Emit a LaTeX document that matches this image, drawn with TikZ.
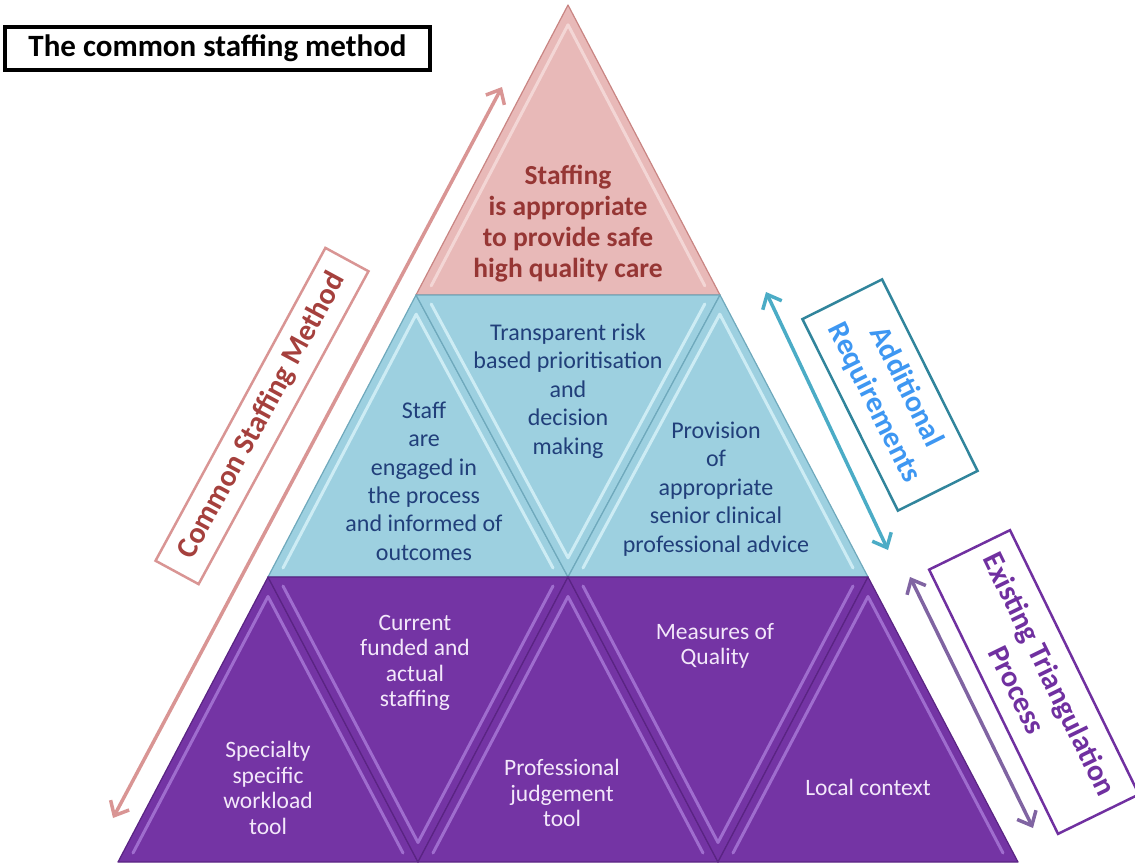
\documentclass[tikz,border=0pt]{standalone}
\usepackage{fontspec}
\setmainfont{Carlito}
\usetikzlibrary{arrows.meta}
\definecolor{pkfill}{HTML}{E8B9B8}
\definecolor{pkedge}{HTML}{C98583}
\definecolor{pkhi}{HTML}{F6DCDB}
\definecolor{pktext}{HTML}{963634}
\definecolor{blfill}{HTML}{9DD0E0}
\definecolor{bledge}{HTML}{6FA9BC}
\definecolor{blhi}{HTML}{D6F1F8}
\definecolor{bltext}{HTML}{213F7A}
\definecolor{pufill}{HTML}{7434A4}
\definecolor{puedge}{HTML}{5A2483}
\definecolor{puhi}{HTML}{A777D6}
\definecolor{putext}{HTML}{F3E8FA}
\definecolor{arrpink}{HTML}{D99594}
\definecolor{boxpinktext}{HTML}{A5403D}
\definecolor{arrblue}{HTML}{4BACC6}
\definecolor{boxblue}{HTML}{31859C}
\definecolor{textblue}{HTML}{3E97F2}
\definecolor{arrpurple}{HTML}{8064A2}
\definecolor{boxpurple}{HTML}{7030A0}
\tikzset{
  dblarr/.style={line width=3.5pt, arrows={Straight Barb[length=12pt,width=21pt]-Straight Barb[length=12pt,width=21pt]}},
  pktxt/.style={text=pktext, align=center, font=\bfseries\fontsize{27.5}{31}\selectfont},
  bltxt/.style={text=bltext, align=center, font=\fontsize{24}{28.4}\selectfont},
  putxt/.style={text=putext, align=center, font=\fontsize{23.5}{25.5}\selectfont},
  sidebox/.style={draw, line width=2.5pt, align=center, inner sep=0pt, font=\bfseries\fontsize{30}{36}\selectfont},
}
% #2 -- #3 -- #4 are given so that the open path follows the two slanted sides
\newcommand\pyrtri[5]{%
  \filldraw[fill=#1fill, draw=#1edge, line width=1.2pt, line join=round] #2 -- #3 -- #4 -- cycle;
  \draw[#1hi, opacity=0.85, line width=3pt, line join=round, line cap=round, scale around={0.9:#5}] #2 -- #3 -- #4;
}
\begin{document}
\begin{tikzpicture}[x=1pt,y=-1pt]
\useasboundingbox (0,0) rectangle (1135,865);
% title
\node[draw=black, line width=3.5pt, minimum width=425pt, minimum height=43pt, inner sep=0pt,
      font=\bfseries\fontsize{31}{35}\selectfont] (title) at (217.5,48.5) {The common staffing method};
% pyramid: top tier
\pyrtri{pk}{(416,295)}{(568,5)}{(720,295)}{(568,203)}
% middle tier
\pyrtri{bl}{(268,577)}{(416,295)}{(568,577)}{(418,487)}
\pyrtri{bl}{(416,295)}{(568,577)}{(720,295)}{(568,385)}
\pyrtri{bl}{(568,577)}{(720,295)}{(868,577)}{(718,487)}
% bottom tier
\pyrtri{pu}{(118,862)}{(268,577)}{(418,862)}{(268,772)}
\pyrtri{pu}{(268,577)}{(418,862)}{(568,577)}{(418,667)}
\pyrtri{pu}{(418,862)}{(568,577)}{(718,862)}{(568,772)}
\pyrtri{pu}{(568,577)}{(718,862)}{(868,577)}{(718,667)}
\pyrtri{pu}{(718,862)}{(868,577)}{(1018,862)}{(868,772)}
% texts
\node[pktxt] (safe) at (568,224) {Staffing\\is appropriate\\to provide safe\\high quality care};
\node[bltxt] (engaged) at (424,481) {Staff\\are\\engaged in\\the process\\and informed of\\outcomes};
\node[bltxt] (risk) at (568,391) {Transparent risk\\based prioritisation\\and\\decision\\making};
\node[bltxt] (advice) at (716,489) {Provision\\of\\appropriate\\senior clinical\\professional advice};
\node[putxt] (funded) at (415,663) {Current\\funded and\\actual\\staffing};
\node[putxt] (specialty) at (268,788) {Specialty\\specific\\workload\\tool};
\node[putxt] (judgement) at (562,793) {Professional\\judgement\\tool};
\node[putxt] (quality) at (715,646) {Measures of\\Quality};
\node[putxt] (local) at (868,787) {Local context};
% arrows
\coordinate (csmlow) at (113,818);
\coordinate (csmhigh) at (502,87);
\draw[dblarr, arrpink] (csmlow) -- (csmhigh);
\coordinate (arhigh) at (766,292);
\coordinate (arlow) at (888,550);
\draw[dblarr, arrblue] (arhigh) -- (arlow);
\coordinate (ethigh) at (910,577);
\coordinate (etlow) at (1033,828);
\draw[dblarr, arrpurple] (ethigh) -- (etlow);
% side boxes
\node[sidebox, draw=arrpink, text=boxpinktext, rotate=61.5, minimum width=356pt, minimum height=49pt] (csm) at (262,416) {Common Staffing Method};
\node[sidebox, draw=boxblue, text=textblue, rotate=-63.5, minimum width=214pt, minimum height=89pt] (addreq) at (890,395) {Additional\\Requirements};
\node[sidebox, draw=boxpurple, text=boxpurple, rotate=-64, minimum width=294pt, minimum height=90pt] (existing) at (1034,682) {Existing Triangulation\\Process};
\end{tikzpicture}
\end{document}
